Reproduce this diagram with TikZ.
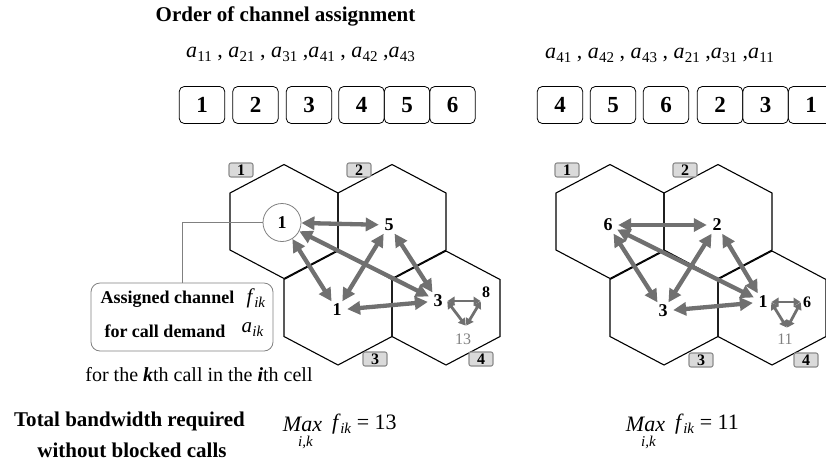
\documentclass[tikz,border=0pt]{standalone}
\usepackage{fontspec}
\setmainfont{Liberation Serif}
\usetikzlibrary{arrows.meta,calc}
\definecolor{arrgray}{RGB}{112,112,112}
\definecolor{lblfill}{RGB}{218,218,218}
\definecolor{lblline}{RGB}{140,140,140}
\definecolor{numgray}{RGB}{128,128,128}
\newcommand\fsz[1]{\fontsize{#1}{#1}\selectfont}
\newcommand\asub[1]{\textit{a}\kern0.3pt\raisebox{-4pt}{\fsz{15}#1}}
\newcommand\fsub[1]{\textit{f}\kern-0.6pt\raisebox{-4pt}{\fsz{15}#1}}
\tikzset{
  hexcell/.style={draw=black, line width=1.1pt, line join=miter},
  num/.style={font=\fsz{18}\bfseries, circle, inner sep=0pt, minimum size=20pt},
  cell/.style={draw=lblline, fill=lblfill, rounded corners=2pt, line width=1.1pt,
    minimum width=24pt, minimum height=14pt, inner sep=0pt, font=\fsz{16}\bfseries},
  chbox/.style={draw, rounded corners=5pt, line width=0.8pt, minimum width=45.5pt,
    minimum height=37pt, inner sep=0pt, font=\fsz{23}\bfseries},
  link/.style={draw=arrgray, line width=4.3pt,
    {Triangle[length=13pt,width=13pt]}-{Triangle[length=13pt,width=13pt]}},
  minilink/.style={draw=arrgray, line width=2.8pt, shorten <=0.5pt, shorten >=0.5pt,
    {Triangle[length=7pt,width=8.5pt]}-{Triangle[length=7pt,width=8.5pt]}},
  bigtext/.style={font=\fsz{21}\bfseries, inner sep=0pt},
}
\begin{document}
\begin{tikzpicture}[x=1pt,y=-1pt]
\useasboundingbox (0,0) rectangle (826,464);
\clip (0,0) rectangle (826,464);

% ---- top texts
\node[bigtext] (title) at (285.5,16) {Order of channel assignment};
\node[font=\fsz{22}, inner sep=0pt] (seqL) at (300.5,54)
  {\asub{11} , \asub{21} , \asub{31} ,\asub{41} , \asub{42} ,\asub{43}};
\node[font=\fsz{22}, inner sep=0pt] (seqR) at (659.5,55)
  {\asub{41} , \asub{42} , \asub{43} , \asub{21} ,\asub{31} ,\asub{11}};

% ---- channel boxes
\node[chbox] (l1) at (202,105) {1};
\node[chbox] (l2) at (255.5,105) {2};
\node[chbox] (l3) at (309,105) {3};
\node[chbox] (l4) at (361.5,105) {4};
\node[chbox] (l5) at (407,105) {5};
\node[chbox] (l6) at (452.5,105) {6};
\node[chbox] (r4) at (560,105) {4};
\node[chbox] (r5) at (613,105) {5};
\node[chbox] (r6) at (666,105) {6};
\node[chbox] (r2) at (720,105) {2};
\node[chbox] (r3) at (765.5,105) {3};
\node[chbox] (r1) at (811,105) {1};

% ---- hexagonal cells
\foreach \cx/\cy in {284/221.5, 392/221.5, 338/308, 446/308,
                     610/221.5, 718/221.5, 664/308, 772/308}
  \draw[hexcell] (\cx,\cy-57) -- ++(54,28.5) -- ++(0,57) -- ++(-54,28.5)
     -- ++(-54,-28.5) -- ++(0,-57) -- cycle;

% ---- cell labels
\node[cell] (cl1) at (241,170) {1};
\node[cell] (cl2) at (359,170) {2};
\node[cell] (cl3) at (375,359) {3};
\node[cell] (cl4) at (481,359) {4};
\node[cell] (cr1) at (567,170) {1};
\node[cell] (cr2) at (685,170) {2};
\node[cell] (cr3) at (701,360) {3};
\node[cell] (cr4) at (806,360) {4};

% ---- left assignment
\node[num, draw=numgray, line width=0.8pt, minimum size=38pt] (a1) at (282,222.5) {1};
\node[num] (a5) at (389,225) {5};
\node[num] (a31) at (337,310) {1};
\node[num] (a41) at (438,301) {3};
\node[font=\fsz{16}\bfseries, inner sep=0pt] (a42) at (486,292) {8};
\node[font=\fsz{16}, text=numgray, inner sep=0pt] (a43) at (463,339) {13};
\draw[link] (a1) -- (a5);
\draw[link] (a1) -- (a31);
\draw[link] (a1) -- (a41);
\draw[link] (a5) -- (a31);
\draw[link] (a5) -- (a41);
\draw[link] (a31) -- (a41);
\coordinate (ta) at (447,301);
\coordinate (tb) at (481,301);
\coordinate (tc) at (466,326);
\draw[minilink] (ta) -- (tb);
\draw[minilink] (ta) -- (tc);
\draw[minilink] (tb) -- (tc);

% ---- right assignment
\node[num] (b6) at (608,225) {6};
\node[num] (b2) at (717,225) {2};
\node[num] (b3) at (663,311) {3};
\node[num] (b1) at (763,302) {1};
\node[font=\fsz{16}\bfseries, inner sep=0pt] (b6s) at (807,302) {6};
\node[font=\fsz{16}, text=numgray, inner sep=0pt] (b11) at (785,339) {11};
\draw[link] (b6) -- (b2);
\draw[link] (b6) -- (b3);
\draw[link] (b6) -- (b1);
\draw[link] (b2) -- (b3);
\draw[link] (b2) -- (b1);
\draw[link] (b3) -- (b1);
\coordinate (ua) at (771,302);
\coordinate (ub) at (801,302);
\coordinate (uc) at (787,328);
\draw[minilink] (ua) -- (ub);
\draw[minilink] (ua) -- (uc);
\draw[minilink] (ub) -- (uc);

% ---- annotation
\node[draw=numgray, rounded corners=9pt, line width=0.8pt, minimum width=182pt,
      minimum height=68pt, inner sep=0pt] (note) at (182,317) {};
\coordinate (bend) at (182,222.5);
\draw[numgray, line width=0.8pt] (a1.west) -- (bend) -- (note.north -| bend);
\node[font=\fsz{18}\bfseries, inner sep=0pt] (n1) at (167.5,299) {Assigned channel};
\node[font=\fsz{21}, inner sep=0pt] (n1f) at (256,298) {\fsub{\textit{ik}}};
\node[font=\fsz{18}\bfseries, inner sep=0pt] (n2) at (165,331) {for call demand};
\node[font=\fsz{21}, inner sep=0pt] (n2a) at (252.5,330) {\asub{\textit{ik}}};
\node[font=\fsz{20}, inner sep=0pt] (expl) at (199,375)
  {for the \textbf{\textit{k}}th call in the \textbf{\textit{i}}th cell};

% ---- bottom
\node[bigtext] (tb1) at (129.5,421) {Total bandwidth required};
\node[bigtext] (tb2) at (132,450) {without blocked calls};
\node[font=\fsz{22}\itshape, inner sep=0pt] (maxL) at (302.5,424) {Max};
\node[font=\fsz{15}\itshape, inner sep=0pt] (ikL) at (305.5,442) {i,k};
\node[font=\fsz{22}, inner sep=0pt, anchor=west] (eqL) at (332,424) {\fsub{\textit{ik}} = 13};
\node[font=\fsz{22}\itshape, inner sep=0pt] (maxR) at (645.5,424) {Max};
\node[font=\fsz{15}\itshape, inner sep=0pt] (ikR) at (648.5,442) {i,k};
\node[font=\fsz{22}, inner sep=0pt, anchor=west] (eqR) at (675,424) {\fsub{\textit{ik}} = 11};
\end{tikzpicture}
\end{document}
